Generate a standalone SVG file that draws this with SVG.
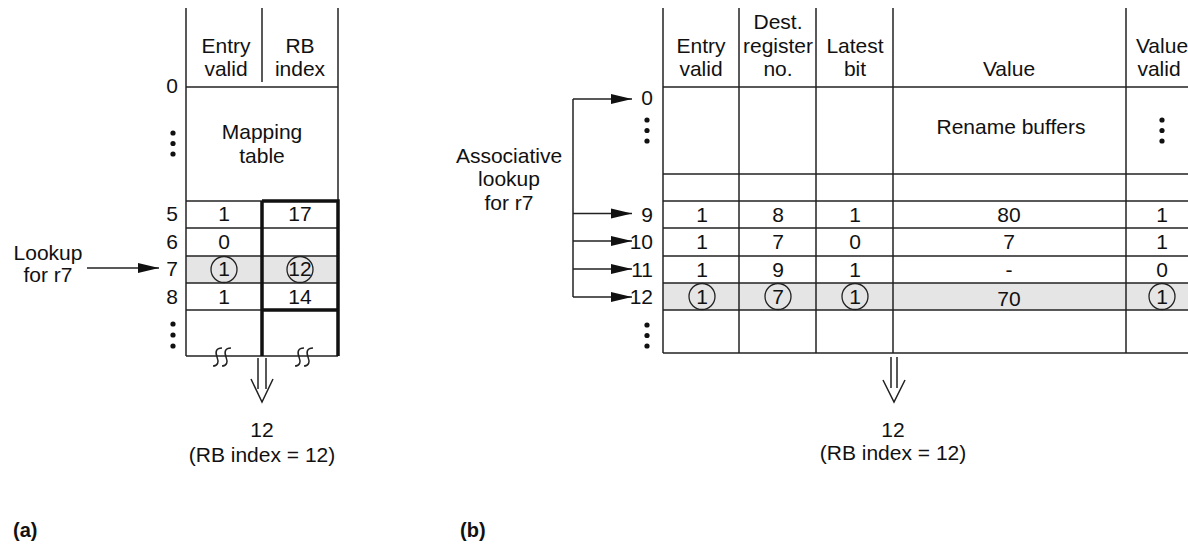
<svg xmlns="http://www.w3.org/2000/svg" width="1188" height="546" viewBox="0 0 1188 546">
<defs>
<style>
text{font-family:"Liberation Sans",Arial,Helvetica,sans-serif;font-size:21px;fill:#111;}
.c{text-anchor:middle;}
.r{text-anchor:end;}
.b{font-weight:bold;font-size:20px;}
.ln{stroke:#222;stroke-width:1.5;fill:none;}
.thick{stroke:#111;stroke-width:3.5;fill:none;}
.circ{stroke:#222;stroke-width:1.3;fill:none;}
.shade{fill:#e5e5e5;}
.dot{fill:#111;}
</style>
<marker id="ah" markerUnits="userSpaceOnUse" markerWidth="22" markerHeight="12" viewBox="0 0 22 12" refX="21" refY="6" orient="auto">
<path d="M0,1 L21,6 L0,11 z" fill="#111"/>
</marker>
</defs>
<rect width="1188" height="546" fill="#fff"/>

<!-- (a) Mapping table -->
<g id="mapping-table">
<rect class="shade" x="186" y="256" width="152" height="27"/>
<line class="ln" x1="186" y1="8" x2="186" y2="356"/>
<line class="ln" x1="338" y1="8" x2="338" y2="201"/>
<line class="ln" x1="262" y1="8" x2="262" y2="82"/>
<line class="ln" x1="186" y1="87" x2="338" y2="87"/>
<line class="ln" x1="186" y1="201" x2="262" y2="201"/>
<line class="ln" x1="186" y1="228" x2="338" y2="228"/>
<line class="ln" x1="186" y1="256" x2="338" y2="256"/>
<line class="ln" x1="186" y1="283" x2="338" y2="283"/>
<line class="ln" x1="186" y1="310" x2="262" y2="310"/>
<line class="ln" x1="186" y1="356" x2="338" y2="356"/>
<path class="thick" d="M262,201 H338 V356 M262,201 V356 M262,310 H338"/>
<path class="ln" d="M213,366 c5,0 6,-4 4,-9 c-2,-5 -1,-9 5,-9 M222,366 c5,0 6,-4 4,-9 c-2,-5 -1,-9 5,-9"/>
<path class="ln" d="M295,366 c5,0 6,-4 4,-9 c-2,-5 -1,-9 5,-9 M304,366 c5,0 6,-4 4,-9 c-2,-5 -1,-9 5,-9"/>
<text class="c" x="226" y="53">Entry</text>
<text class="c" x="226" y="76">valid</text>
<text class="c" x="300" y="53">RB</text>
<text class="c" x="300" y="76">index</text>
<text class="c" x="262" y="139">Mapping</text>
<text class="c" x="262" y="163">table</text>
<text class="r" x="178" y="93">0</text>
<circle class="dot" cx="173" cy="133" r="2.6"/>
<circle class="dot" cx="173" cy="143.5" r="2.6"/>
<circle class="dot" cx="173" cy="154" r="2.6"/>
<text class="r" x="178" y="221">5</text>
<text class="r" x="178" y="249">6</text>
<text class="r" x="178" y="276">7</text>
<text class="r" x="178" y="304">8</text>
<circle class="dot" cx="173" cy="324" r="2.6"/>
<circle class="dot" cx="173" cy="335" r="2.6"/>
<circle class="dot" cx="173" cy="346" r="2.6"/>
<text class="c" x="224" y="221">1</text>
<text class="c" x="300" y="221">17</text>
<text class="c" x="224" y="249">0</text>
<text class="c" x="224" y="276">1</text>
<circle class="circ" cx="224" cy="269.5" r="13"/>
<text class="c" x="300" y="276">12</text>
<circle class="circ" cx="300" cy="269.5" r="13"/>
<text class="c" x="224" y="304">1</text>
<text class="c" x="300" y="304">14</text>
</g>

<g id="lookup-a">
<text class="c" x="48" y="260">Lookup</text>
<text class="c" x="48" y="282">for r7</text>
</g>

<g id="result-a">
<path class="ln" d="M258,358 V389 M266,358 V389 M251,379 L262,402 L273,379"/>
<text class="c" x="262" y="437">12</text>
<text class="c" x="262" y="462">(RB index = 12)</text>
</g>

<!-- (b) Rename buffers -->
<g id="rename-buffers">
<rect class="shade" x="663" y="283" width="525" height="27"/>
<line class="ln" x1="663" y1="8" x2="663" y2="353"/>
<line class="ln" x1="739" y1="8" x2="739" y2="353"/>
<line class="ln" x1="816" y1="8" x2="816" y2="353"/>
<line class="ln" x1="893" y1="8" x2="893" y2="353"/>
<line class="ln" x1="1126" y1="8" x2="1126" y2="353"/>
<line class="ln" x1="663" y1="87" x2="1188" y2="87"/>
<line class="ln" x1="663" y1="174" x2="1188" y2="174"/>
<line class="ln" x1="663" y1="201" x2="1188" y2="201"/>
<line class="ln" x1="663" y1="228" x2="1188" y2="228"/>
<line class="ln" x1="663" y1="256" x2="1188" y2="256"/>
<line class="ln" x1="663" y1="283" x2="1188" y2="283"/>
<line class="ln" x1="663" y1="310" x2="1188" y2="310"/>
<line class="ln" x1="663" y1="353" x2="1188" y2="353"/>
<text class="c" x="701" y="53">Entry</text>
<text class="c" x="701" y="76">valid</text>
<text class="c" x="778" y="29">Dest.</text>
<text class="c" x="778" y="53">register</text>
<text class="c" x="778" y="76">no.</text>
<text class="c" x="855" y="53">Latest</text>
<text class="c" x="855" y="76">bit</text>
<text class="c" x="1009" y="76">Value</text>
<text class="c" x="1162" y="53">Value</text>
<text class="c" x="1159" y="76">valid</text>
<text class="c" x="1011" y="134">Rename buffers</text>
<circle class="dot" cx="1162" cy="120" r="2.6"/>
<circle class="dot" cx="1162" cy="130.5" r="2.6"/>
<circle class="dot" cx="1162" cy="141" r="2.6"/>
<text class="r" x="653" y="105">0</text>
<circle class="dot" cx="647" cy="120" r="2.6"/>
<circle class="dot" cx="647" cy="130.5" r="2.6"/>
<circle class="dot" cx="647" cy="141" r="2.6"/>
<text class="r" x="653" y="221.5">9</text>
<text class="r" x="653" y="249">10</text>
<text class="r" x="653" y="276.5">11</text>
<text class="r" x="653" y="304">12</text>
<circle class="dot" cx="647" cy="325" r="2.6"/>
<circle class="dot" cx="647" cy="335.5" r="2.6"/>
<circle class="dot" cx="647" cy="346" r="2.6"/>
<text class="c" x="702" y="221.5">1</text>
<text class="c" x="778" y="221.5">8</text>
<text class="c" x="855" y="221.5">1</text>
<text class="c" x="1009" y="221.5">80</text>
<text class="c" x="1162" y="221.5">1</text>
<text class="c" x="702" y="249">1</text>
<text class="c" x="778" y="249">7</text>
<text class="c" x="855" y="249">0</text>
<text class="c" x="1009" y="249">7</text>
<text class="c" x="1162" y="249">1</text>
<text class="c" x="702" y="276.5">1</text>
<text class="c" x="778" y="276.5">9</text>
<text class="c" x="855" y="276.5">1</text>
<text class="c" x="1009" y="276.5">-</text>
<text class="c" x="1162" y="276.5">0</text>
<text class="c" x="702" y="304">1</text>
<circle class="circ" cx="702" cy="296.5" r="13"/>
<text class="c" x="778" y="304">7</text>
<circle class="circ" cx="778" cy="296.5" r="13"/>
<text class="c" x="855" y="304">1</text>
<circle class="circ" cx="855" cy="296.5" r="13"/>
<text class="c" x="1009" y="306">70</text>
<text class="c" x="1162" y="304">1</text>
<circle class="circ" cx="1162" cy="296.5" r="13"/>
</g>

<g id="lookup-b">
<text class="c" x="509" y="163">Associative</text>
<text class="c" x="509" y="186">lookup</text>
<text class="c" x="509" y="210">for r7</text>
</g>

<g id="result-b">
<path class="ln" d="M891,357 V388 M897,357 V388 M883,380 L894,402 L905,380"/>
<text class="c" x="893" y="437">12</text>
<text class="c" x="893" y="460">(RB index = 12)</text>
</g>

<g id="connectors">
<line class="ln" x1="87" y1="268" x2="159" y2="268" marker-end="url(#ah)"/>
<path class="ln" d="M573,99 V297"/>
<line class="ln" x1="573" y1="99" x2="632" y2="99" marker-end="url(#ah)"/>
<line class="ln" x1="573" y1="213.5" x2="632" y2="213.5" marker-end="url(#ah)"/>
<line class="ln" x1="573" y1="241" x2="632" y2="241" marker-end="url(#ah)"/>
<line class="ln" x1="573" y1="269" x2="632" y2="269" marker-end="url(#ah)"/>
<line class="ln" x1="573" y1="297" x2="632" y2="297" marker-end="url(#ah)"/>
</g>

<g id="captions">
<text class="b" x="13" y="537">(a)</text>
<text class="b" x="460" y="537">(b)</text>
</g>
</svg>
